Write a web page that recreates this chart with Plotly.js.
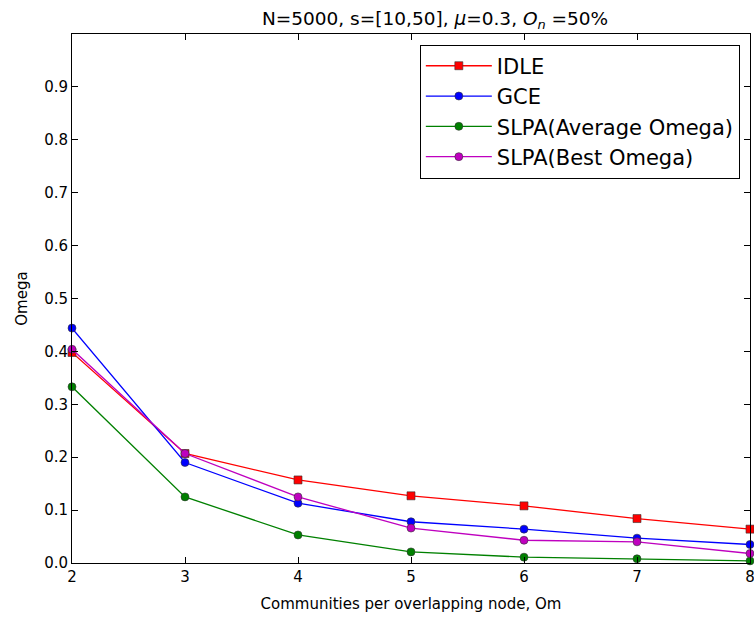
<!DOCTYPE html>
<html>
<head>
<meta charset="utf-8">
<script src="https://cdn.plot.ly/plotly-3.0.1.min.js"></script>
<style>html,body{margin:0;padding:0;background:#fff;}#chart{width:754px;height:618px;}</style>
</head>
<body>
<div id="chart"></div>
<script>
const om = [2, 3, 4, 5, 6, 7, 8];
const idle = [0.398, 0.207, 0.157, 0.127, 0.108, 0.084, 0.064];
const gce = [0.444, 0.190, 0.113, 0.078, 0.064, 0.047, 0.035];
const slpaAvg = [0.333, 0.125, 0.053, 0.021, 0.011, 0.008, 0.004];
const slpaBest = [0.404, 0.207, 0.125, 0.066, 0.043, 0.040, 0.018];
const yTicks = [0, 0.1, 0.2, 0.3, 0.4, 0.5, 0.6, 0.7, 0.8, 0.9];
const yTickText = ['0.0','0.1','0.2','0.3','0.4','0.5','0.6','0.7','0.8','0.9'];

function tr(name, y, color, symbol) {
  return {
    x: om, y: y, name: name, legendgroup: name, type: 'scatter', mode: 'lines+markers',
    line: {color: color, width: 1.3},
    marker: {color: color, symbol: symbol, size: 8, line: {color: '#333', width: 0.6}},
    cliponaxis: false
  };
}
const data = [
  tr('IDLE', idle, '#ff0000', 'square'),
  tr('GCE', gce, '#0000ff', 'circle'),
  tr('SLPA(Average Omega)', slpaAvg, '#008000', 'circle'),
  tr('SLPA(Best Omega)', slpaBest, '#bf00bf', 'circle')
];
const font = {family: 'DejaVu Sans, sans-serif', color: '#000'};
const layout = {
  width: 754, height: 618,
  margin: {l: 72, r: 4, t: 34, b: 55},
  paper_bgcolor: '#fff', plot_bgcolor: '#fff',
  font: font,
  title: {text: 'N=5000, s=[10,50], <i>μ</i>=0.3, <i>O</i><sub><i>n</i></sub> =50%',
          font: {family: 'DejaVu Sans, sans-serif', size: 18.5, color: '#000'},
          x: 0.577, xanchor: 'center', y: 0.97, yanchor: 'middle'},
  xaxis: {
    range: [2, 8], tickvals: om, ticktext: om.map(String),
    showgrid: false, zeroline: false, showline: true, linecolor: '#000', linewidth: 1,
    mirror: 'ticks', ticks: 'inside', ticklen: 6, tickcolor: '#000',
    ticklabeloverflow: 'allow',
    tickfont: {size: 15, family: 'DejaVu Sans, sans-serif'},
    title: {text: 'Communities per overlapping node, Om', font: {size: 15, family: 'DejaVu Sans, sans-serif'}, standoff: 13}
  },
  yaxis: {
    range: [0, 1], tickvals: yTicks, ticktext: yTickText,
    showgrid: false, zeroline: false, showline: true, linecolor: '#000', linewidth: 1,
    mirror: 'ticks', ticks: 'inside', ticklen: 6, tickcolor: '#000',
    tickfont: {size: 15, family: 'DejaVu Sans, sans-serif'},
    title: {text: 'Omega', font: {size: 15, family: 'DejaVu Sans, sans-serif'}, standoff: 12}
  },
  legend: {
    x: 0.985, xanchor: 'right', y: 0.98, yanchor: 'top',
    bordercolor: '#000', borderwidth: 1, bgcolor: '#fff',
    font: {size: 21, family: 'DejaVu Sans, sans-serif'},
    tracegroupgap: 0, itemwidth: 66
  },
  showlegend: true
};
Plotly.newPlot('chart', data, layout, {displayModeBar: false, staticPlot: true});
</script>
</body>
</html>
